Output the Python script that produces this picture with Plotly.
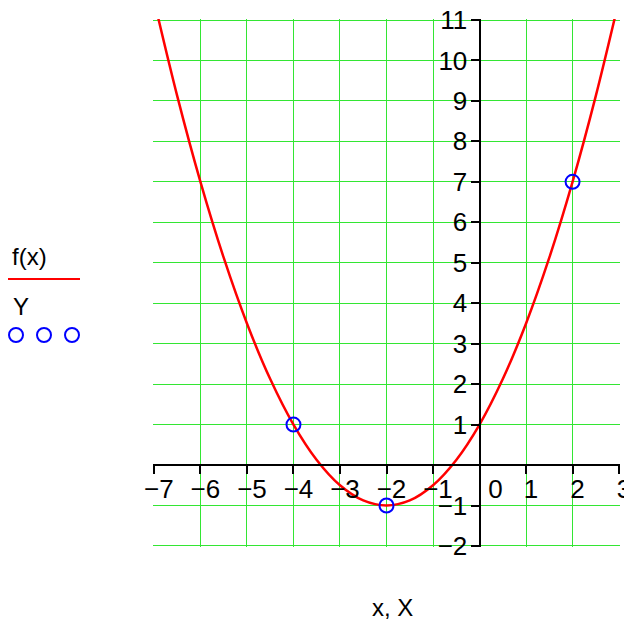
import plotly.graph_objects as go

# curve f(x) at half-unit steps
curve_x = [-7, -6.5, -6, -5.5, -5, -4.5, -4, -3.5, -3, -2.5, -2,
           -1.5, -1, -0.5, 0, 0.5, 1, 1.5, 2, 2.5, 3]
curve_y = [11.5, 9.125, 7, 5.125, 3.5, 2.125, 1, 0.125, -0.5, -0.875, -1,
           -0.875, -0.5, 0.125, 1, 2.125, 3.5, 5.125, 7, 9.125, 11.5]

# measured points Y
pts_x = [-4, -2, 2]
pts_y = [1, -1, 7]

x_ticks = [-7, -6, -5, -4, -3, -2, -1, 0, 1, 2, 3]
x_labels = ["\u22127", "\u22126", "\u22125", "\u22124", "\u22123", "\u22122", "\u22121",
            "\u00a0\u00a0\u00a00", "1", "2", "3"]
y_ticks = [-2, -1, 0, 1, 2, 3, 4, 5, 6, 7, 8, 9, 10, 11]
y_labels = ["\u22122", "\u22121", "", "1", "2", "3", "4", "5", "6", "7", "8", "9", "10", "11"]

# a hair wider than the ticks so the edge ticks and grid lines are kept
X_RANGE = [-7.02, 3.02]
Y_RANGE = [-2.025, 11.025]

# the page has an 8px body margin, so the figure is a bit smaller than the window
OFF = 8
W, H = 632 - OFF, 625 - OFF
L, R, T, B = 153 - OFF, 12, 11, 78
FONT = "Liberation Sans, Arial, sans-serif"
GRID = "#33e633"


def px(xp):
    # page pixel -> paper fraction
    return (xp - OFF - L) / (W - L - R)


def py(yp):
    return (H - B - (yp - OFF)) / (H - T - B)


fig = go.Figure()
fig.add_scatter(x=curve_x, y=curve_y, mode="lines", line=dict(color="#ff0000", width=2.5, shape="spline"),
                showlegend=False, hoverinfo="skip")
fig.add_scatter(x=pts_x, y=pts_y, mode="markers",
                marker=dict(symbol="circle-open", size=14, color="#0000ff", line=dict(width=2)),
                showlegend=False)

x_pos = (0 - Y_RANGE[0]) / (Y_RANGE[1] - Y_RANGE[0])
y_pos = (0 - X_RANGE[0]) / (X_RANGE[1] - X_RANGE[0])

axis_common = dict(showline=True, linecolor="black", linewidth=2, tickcolor="black", tickwidth=2,
                   ticklen=8, zeroline=False, automargin=False, ticklabeloverflow="allow",
                   tickfont=dict(family=FONT, size=26, color="black"))

fig.update_layout(
    width=W, height=H,
    margin=dict(l=L, r=R, t=T, b=B, autoexpand=False),
    paper_bgcolor="white", plot_bgcolor="white",
    xaxis=dict(range=X_RANGE, anchor="free", position=x_pos, tickmode="array",
               tickvals=x_ticks, ticktext=x_labels, ticks="outside", ticklabelshift=5,
               ticklabelstandoff=-7,
               showgrid=True, gridcolor=GRID, gridwidth=1, **axis_common),
    yaxis=dict(range=Y_RANGE, anchor="free", position=y_pos, tickmode="array",
               tickvals=y_ticks, ticktext=y_labels, ticks="outside", ticklabelstandoff=-2,
               showgrid=True, gridcolor=GRID, gridwidth=1, **axis_common),
    xaxis2=dict(range=X_RANGE, overlaying="x", anchor="free", position=x_pos, tickmode="array",
                tickvals=x_ticks, ticks="inside", showticklabels=False, showgrid=False,
                showline=False, zeroline=False, tickcolor="black", tickwidth=2, ticklen=8),
    yaxis2=dict(range=Y_RANGE, overlaying="y", anchor="free", position=y_pos, tickmode="array",
                tickvals=y_ticks, ticks="inside", showticklabels=False, showgrid=False,
                showline=False, zeroline=False, tickcolor="black", tickwidth=2, ticklen=8),
    showlegend=False,
)

# hand-made legend to the left of the plot, plus x title (page pixels)
fig.add_annotation(text="f(x)", x=px(10), y=py(256), xref="paper", yref="paper",
                   xanchor="left", yanchor="middle", showarrow=False,
                   font=dict(family=FONT, size=24, color="black"))
fig.add_shape(type="line", x0=px(8), x1=px(80), y0=py(279), y1=py(279), xref="paper", yref="paper",
              line=dict(color="#ff0000", width=2))
fig.add_annotation(text="Y", x=px(11), y=py(306), xref="paper", yref="paper",
                   xanchor="left", yanchor="middle", showarrow=False,
                   font=dict(family=FONT, size=24, color="black"))
for cx in [16, 44, 72]:
    fig.add_shape(type="circle", x0=px(cx - 7), x1=px(cx + 7), y0=py(335 - 7), y1=py(335 + 7),
                  xref="paper", yref="paper", line=dict(color="#0000ff", width=2))
fig.add_annotation(text="x, X", x=px(392), y=py(607), xref="paper", yref="paper",
                   xanchor="center", yanchor="middle", showarrow=False,
                   font=dict(family=FONT, size=24, color="black"))

fig.write_html("out.html")
